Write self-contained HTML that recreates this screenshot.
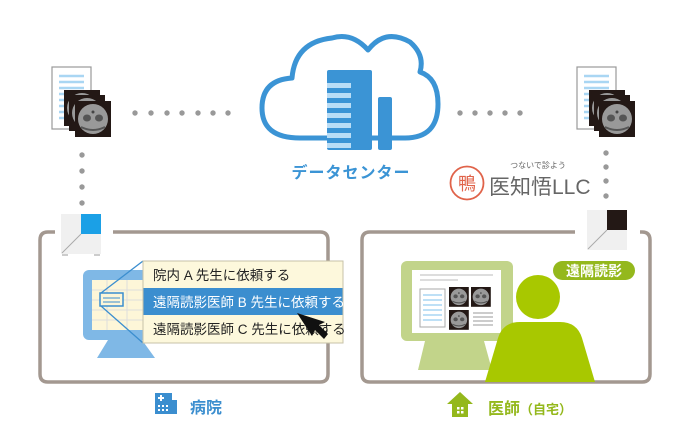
<!DOCTYPE html>
<html><head><meta charset="utf-8"><style>
html,body{margin:0;padding:0;background:#fff;}
svg{display:block;font-family:"Liberation Sans","Noto Sans CJK JP",sans-serif;}
</style></head><body>
<svg width="690" height="448" viewBox="0 0 690 448" xmlns="http://www.w3.org/2000/svg">
<defs>
<g id="ct">
 <rect x="0" y="0" width="36" height="36" fill="#231815"/>
 <circle cx="18" cy="18" r="15" fill="#999"/>
 <ellipse cx="12" cy="17" rx="4" ry="3.5" fill="#555"/>
 <ellipse cx="24" cy="17" rx="4" ry="3.5" fill="#555"/>
 <circle cx="18" cy="11" r="1.5" fill="#444"/>
 <path d="M6 26 Q18 32 30 26" stroke="#555" stroke-width="2" fill="none"/>
</g>
<g id="doc">
 <rect x="0" y="0" width="39" height="62" fill="#fff" stroke="#999" stroke-width="1.2"/>
 <g stroke="#a9d6f3" stroke-width="2.5">
  <line x1="7" y1="9" x2="32" y2="9"/><line x1="7" y1="15" x2="32" y2="15"/>
  <line x1="7" y1="21" x2="32" y2="21"/><line x1="7" y1="27" x2="32" y2="27"/>
  <line x1="7" y1="33" x2="32" y2="33"/><line x1="7" y1="39" x2="32" y2="39"/>
  <line x1="7" y1="45" x2="32" y2="45"/><line x1="7" y1="51" x2="32" y2="51"/>
 </g>
</g>
</defs>

<!-- left stack -->
<use href="#doc" x="52" y="67"/>
<use href="#ct" x="64" y="90"/><use href="#ct" x="69" y="95"/><use href="#ct" x="75" y="101"/>
<!-- right stack -->
<use href="#doc" x="577" y="67"/>
<use href="#ct" x="589" y="90"/><use href="#ct" x="594" y="95"/><use href="#ct" x="599" y="101"/>

<!-- dots -->
<g fill="#999">
 <circle cx="135" cy="113" r="2.7"/><circle cx="151" cy="113" r="2.7"/><circle cx="167" cy="113" r="2.7"/><circle cx="182" cy="113" r="2.7"/><circle cx="198" cy="113" r="2.7"/><circle cx="213" cy="113" r="2.7"/><circle cx="228" cy="113" r="2.7"/>
 <circle cx="460" cy="113" r="2.7"/><circle cx="475" cy="113" r="2.7"/><circle cx="490" cy="113" r="2.7"/><circle cx="505" cy="113" r="2.7"/><circle cx="520" cy="113" r="2.7"/>
 <circle cx="82" cy="155" r="2.7"/><circle cx="82" cy="171" r="2.7"/><circle cx="82" cy="187" r="2.7"/><circle cx="82" cy="203" r="2.7"/>
 <circle cx="606" cy="153" r="2.7"/><circle cx="606" cy="167" r="2.7"/><circle cx="606" cy="181" r="2.7"/><circle cx="606" cy="196" r="2.7"/>
</g>

<!-- cloud -->
<path d="M300 138 Q262 138 262 108 Q262 80 292 78 Q295 42 332 38 Q352 32 368 50 Q385 28 410 42 Q425 55 420 72 Q438 78 438 104 Q438 138 405 138 Z" fill="#fff" stroke="#3b94d5" stroke-width="5" stroke-linejoin="round"/>
<rect x="327" y="70" width="45" height="80" rx="2" fill="#3b94d5"/>
<rect x="378" y="97" width="14" height="53" rx="2" fill="#3b94d5"/>
<g fill="#b9ddf6">
 <rect x="327" y="83" width="24" height="5"/><rect x="327" y="93" width="24" height="5"/><rect x="327" y="103" width="24" height="5"/><rect x="327" y="113" width="24" height="5"/><rect x="327" y="123" width="24" height="5"/><rect x="327" y="133" width="24" height="5"/><rect x="327" y="143" width="24" height="5"/>
</g>
<text x="351" y="178" font-size="16" font-weight="bold" fill="#3b94d5" text-anchor="middle" letter-spacing="1">データセンター</text>

<!-- logo -->
<circle cx="467" cy="183" r="16.5" fill="none" stroke="#e0634a" stroke-width="1.8"/>
<text x="467" y="190" font-size="18" fill="#e0634a" text-anchor="middle">鴨</text>
<text x="538" y="168" font-size="8" fill="#666" text-anchor="middle">つないで診よう</text>
<text x="489" y="194" font-size="21" fill="#666">医知悟LLC</text>

<!-- left box -->
<path d="M55 232 H48 Q40 232 40 240 V374 Q40 382 48 382 H320 Q328 382 328 374 V240 Q328 232 320 232 H113" fill="none" stroke="#a39890" stroke-width="3.5"/>
<!-- right box -->
<path d="M575 232 H370 Q362 232 362 240 V374 Q362 382 370 382 H642 Q650 382 650 374 V240 Q650 232 642 232 H640" fill="none" stroke="#a39890" stroke-width="3.5"/>

<!-- left device -->
<rect x="61" y="214" width="40" height="40" fill="#f0f0f0"/>
<rect x="81" y="214" width="20" height="20" fill="#1ba0e6"/>
<line x1="62" y1="253" x2="81" y2="234" stroke="#aaa" stroke-width="1"/>
<rect x="62" y="254" width="6" height="2" fill="#ccc"/><rect x="94" y="254" width="6" height="2" fill="#ccc"/>
<!-- right device -->
<rect x="587" y="210" width="40" height="40" fill="#f0f0f0"/>
<rect x="607" y="210" width="20" height="20" fill="#231815"/>
<line x1="588" y1="249" x2="607" y2="230" stroke="#aaa" stroke-width="1"/>

<!-- left monitor -->
<rect x="83" y="270" width="70" height="70" rx="6" fill="#7fb8e6"/>
<rect x="92" y="280" width="60" height="50" fill="#fdf6d8"/>
<g stroke="#ddd" stroke-width="1">
 <line x1="92" y1="290" x2="152" y2="290"/><line x1="92" y1="300" x2="152" y2="300"/><line x1="92" y1="310" x2="152" y2="310"/><line x1="92" y1="320" x2="152" y2="320"/>
 <line x1="107" y1="280" x2="107" y2="330"/><line x1="127" y1="280" x2="127" y2="330"/>
</g>
<path d="M108 340 L142 340 L155 358 L97 358 Z" fill="#7fb8e6"/>
<rect x="100" y="293" width="23" height="13" fill="#fdf6d8" stroke="#3b8ecf" stroke-width="1.5"/>
<line x1="103" y1="298" x2="120" y2="298" stroke="#3b8ecf" stroke-width="1"/><line x1="103" y1="302" x2="120" y2="302" stroke="#3b8ecf" stroke-width="1"/>
<line x1="101" y1="293" x2="143" y2="261" stroke="#3b8ecf" stroke-width="1.3"/>
<line x1="101" y1="306" x2="143" y2="343" stroke="#3b8ecf" stroke-width="1.3"/>
<!-- popup -->
<rect x="143" y="261" width="200" height="82" fill="#fdf8dc" stroke="#c7c2a8" stroke-width="1"/>
<rect x="143.5" y="288" width="199" height="27" fill="#3b8ecf"/>
<text x="153" y="280" font-size="13.5" fill="#222">院内 A 先生に依頼する</text>
<text x="153" y="307" font-size="13.5" fill="#fff">遠隔読影医師 B 先生に依頼する</text>
<text x="153" y="334" font-size="13.5" fill="#222">遠隔読影医師 C 先生に依頼する</text>
<!-- cursor -->
<path d="M297 313 L312 336 L315 330 L324 339 L328 334 L319 325 L325 322 Z" fill="#111"/>

<!-- hospital label -->
<rect x="155" y="393" width="17" height="21" fill="#3b8ecf"/>
<rect x="172" y="400" width="5" height="14" fill="#3b8ecf"/>
<g fill="#fff"><rect x="160" y="395" width="2" height="6"/><rect x="158" y="397" width="6" height="2"/>
<rect x="158" y="405" width="2" height="2"/><rect x="162" y="405" width="2" height="2"/><rect x="166" y="405" width="2" height="2"/>
<rect x="158" y="409" width="2" height="2"/><rect x="162" y="409" width="2" height="2"/><rect x="166" y="409" width="2" height="2"/></g>
<text x="190" y="413" font-size="16" font-weight="bold" fill="#3b8ecf">病院</text>

<!-- right monitor -->
<rect x="401" y="261" width="112" height="80" rx="6" fill="#c2d48a"/>
<rect x="412" y="270" width="89" height="63" fill="#fff"/>
<line x1="420" y1="275" x2="493" y2="275" stroke="#bbb" stroke-width="1"/>
<line x1="420" y1="280" x2="458" y2="280" stroke="#bbb" stroke-width="1"/>
<rect x="420" y="289" width="25" height="38" fill="#fff" stroke="#aaa" stroke-width="1"/>
<g stroke="#a9d6f3" stroke-width="1.5"><line x1="423" y1="295" x2="442" y2="295"/><line x1="423" y1="300" x2="442" y2="300"/><line x1="423" y1="305" x2="442" y2="305"/><line x1="423" y1="310" x2="442" y2="310"/><line x1="423" y1="315" x2="442" y2="315"/><line x1="423" y1="320" x2="442" y2="320"/></g>
<g transform="translate(449,287) scale(0.55)"><use href="#ct"/></g>
<g transform="translate(471,287) scale(0.55)"><use href="#ct"/></g>
<g transform="translate(449,310) scale(0.55)"><use href="#ct"/></g>
<g stroke="#999" stroke-width="1"><line x1="473" y1="313" x2="493" y2="313"/><line x1="473" y1="317" x2="493" y2="317"/><line x1="473" y1="321" x2="493" y2="321"/><line x1="473" y1="325" x2="493" y2="325"/></g>
<path d="M425 341 L484 341 L492 370 L418 370 Z" fill="#c2d48a"/>
<!-- person -->
<circle cx="538" cy="297" r="22" fill="#a8c800"/>
<path d="M485 382 L498 338 Q503 322 520 322 L560 322 Q577 322 582 338 L595 382 Z" fill="#a8c800"/>
<!-- tag -->
<rect x="553" y="261" width="82" height="19" rx="9.5" fill="#94b81c"/>
<text x="594" y="276" font-size="14" font-weight="bold" fill="#fff" text-anchor="middle">遠隔読影</text>

<!-- home label -->
<path d="M460 392 L473 404 L468 404 L468 417 L452 417 L452 404 L447 404 Z" fill="#94b81c"/>
<g fill="#fff"><rect x="457" y="407" width="2.5" height="2.5"/><rect x="461" y="407" width="2.5" height="2.5"/><rect x="457" y="411" width="2.5" height="2.5"/><rect x="461" y="411" width="2.5" height="2.5"/></g>
<text x="488" y="414" font-size="16" font-weight="bold" fill="#94b81c">医師<tspan font-size="13">（自宅）</tspan></text>
</svg>
</body></html>
